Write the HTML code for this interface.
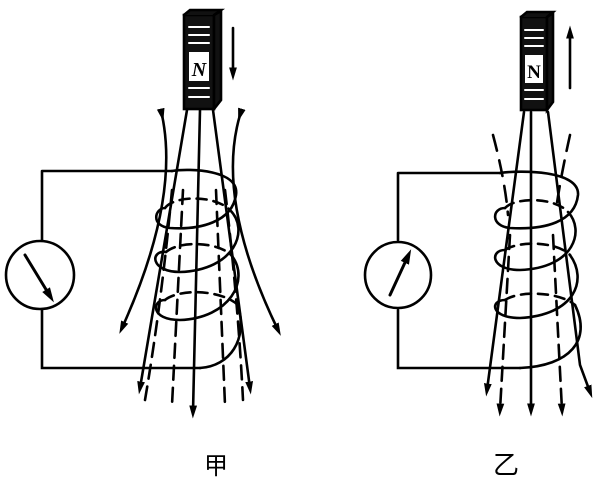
<!DOCTYPE html><html><head><meta charset="utf-8"><style>body{margin:0;background:#fff}svg{display:block}</style></head><body>
<svg width="600" height="482" viewBox="0 0 600 482" xmlns="http://www.w3.org/2000/svg">
<defs><marker id="a" viewBox="0 0 10 10" refX="5" refY="5" markerWidth="5" markerHeight="7" orient="auto"><path d="M0,2 L10,5 L0,8z" fill="#000"/></marker></defs>
<g fill="none" stroke="#000" stroke-width="2.6" stroke-linecap="round">
<!-- LEFT -->
<rect x="184" y="15" width="30" height="94" fill="#111"/>
<path d="M214,15 L221,11 L221,100 L214,109z" fill="#111"/>
<path d="M184,15 L190,10 L221,10 L214,15" fill="#111"/>
<g stroke="#fff" stroke-width="2"><line x1="189" y1="27" x2="209" y2="27"/><line x1="189" y1="35" x2="209" y2="35"/><line x1="189" y1="43" x2="209" y2="43"/><line x1="189" y1="88" x2="209" y2="88"/><line x1="189" y1="97" x2="209" y2="97"/></g>
<rect x="189" y="52" width="20" height="29" fill="#fff" stroke="none"/>
<text x="199" y="76" font-family="Liberation Serif,serif" font-weight="bold" font-style="italic" font-size="20" text-anchor="middle" fill="#000" stroke="none">N</text>
<line x1="233" y1="28" x2="233" y2="74" marker-end="url(#a)"/>
<path d="M42,171 H172 M42,171 V240 M42,310 V368 H200"/>
<circle cx="40" cy="275" r="34"/>
<line x1="25" y1="255" x2="50" y2="296" stroke-width="3" marker-end="url(#a)"/>
<path d="M187,110 L140,388" marker-end="url(#a)"/>
<path d="M200,110 L193,412" marker-end="url(#a)"/>
<path d="M213,110 L250,388" marker-end="url(#a)"/>
<path d="M162,115 Q180,200 122,328" marker-start="url(#a)" marker-end="url(#a)"/>
<path d="M240,115 Q215,200 278,330" marker-start="url(#a)" marker-end="url(#a)"/>
<path d="M172,190 Q162,300 145,400" stroke-dasharray="14,8"/>
<path d="M225,190 Q238,300 243,400" stroke-dasharray="14,8"/>
<path d="M183,190 L172,405" stroke-dasharray="14,8"/>
<path d="M216,190 L225,405" stroke-dasharray="14,8"/>
<path d="M172,171 C190,168 240,170 236,195 C232,222 200,230 170,228 C150,226 155,208 165,208" />
<path d="M165,208 C175,195 215,195 230,210" stroke-dasharray="10,7"/>
<path d="M230,210 C250,230 235,270 180,272 C150,272 150,250 166,252"/>
<path d="M166,252 C180,240 220,242 232,256" stroke-dasharray="10,7"/>
<path d="M232,256 C250,280 230,318 180,320 C150,320 152,300 165,300"/>
<path d="M165,300 C180,288 222,290 238,305" stroke-dasharray="10,7"/>
<path d="M238,305 C248,340 230,366 200,368"/>
<!-- RIGHT -->
<rect x="521" y="17" width="26" height="93" fill="#111"/>
<path d="M547,17 L553,13 L553,102 L547,110z" fill="#111"/>
<path d="M521,17 L527,12 L553,12 L547,17" fill="#111"/>
<g stroke="#fff" stroke-width="2"><line x1="525" y1="30" x2="543" y2="30"/><line x1="525" y1="38" x2="543" y2="38"/><line x1="525" y1="46" x2="543" y2="46"/><line x1="525" y1="90" x2="543" y2="90"/><line x1="525" y1="99" x2="543" y2="99"/></g>
<rect x="525" y="55" width="18" height="28" fill="#fff" stroke="none"/>
<text x="534" y="78" font-family="Liberation Serif,serif" font-weight="bold" font-size="19" text-anchor="middle" fill="#000" stroke="none">N</text>
<line x1="570" y1="88" x2="570" y2="32" marker-end="url(#a)"/>
<path d="M398,173 H500 M398,173 V240 M398,310 V368 H520"/>
<circle cx="398" cy="275" r="33"/>
<line x1="390" y1="295" x2="408" y2="256" stroke-width="3" marker-end="url(#a)"/>
<path d="M524,112 L487,390" marker-end="url(#a)"/>
<path d="M531,112 L531,410" marker-end="url(#a)"/>
<path d="M548,112 L580,365 L590,392" marker-end="url(#a)"/>
<path d="M493,135 Q505,180 508,215" stroke-dasharray="16,10"/>
<path d="M570,135 Q560,180 556,210" stroke-dasharray="16,10"/>
<path d="M510,235 L500,410" stroke-dasharray="14,8" marker-end="url(#a)"/>
<path d="M553,235 L562,410" stroke-dasharray="14,8" marker-end="url(#a)"/>
<path d="M500,173 C520,170 580,170 578,195 C575,222 545,230 510,228 C490,226 492,208 505,208" />
<path d="M505,208 C515,197 555,197 568,212" stroke-dasharray="10,7"/>
<path d="M568,212 C585,230 575,268 520,270 C490,270 490,250 505,250"/>
<path d="M505,250 C520,240 558,242 570,255" stroke-dasharray="10,7"/>
<path d="M570,255 C588,280 575,315 520,318 C490,318 490,300 505,300"/>
<path d="M505,300 C520,290 560,292 575,305" stroke-dasharray="10,7"/>
<path d="M575,305 C592,340 570,366 520,368"/>
</g>
<text x="216" y="474" font-family="Liberation Sans,'Noto Sans CJK SC',sans-serif" font-size="24" text-anchor="middle">甲</text>
<text x="506" y="474" font-family="Liberation Sans,'Noto Sans CJK SC',sans-serif" font-size="26" text-anchor="middle">乙</text>
</svg>
</body></html>
